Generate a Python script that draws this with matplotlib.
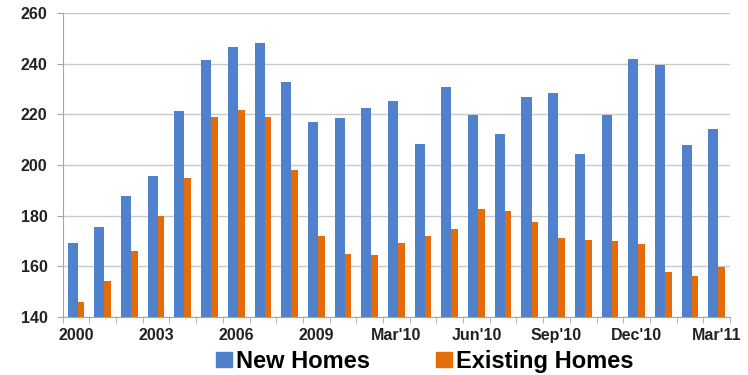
import matplotlib
matplotlib.use("Agg")
import matplotlib.pyplot as plt
from matplotlib.patches import Patch
import numpy as np

# values
new_homes = [169.2, 175.4, 187.8, 195.5, 221.3, 241.5, 246.8, 248.1, 232.8, 217.2,
             218.6, 222.5, 225.2, 208.5, 230.8, 219.8, 212.4, 227.0, 228.4, 204.5,
             219.8, 241.8, 239.5, 208.1, 214.4]
existing_homes = [145.8, 154.3, 165.8, 180.0, 195.0, 218.8, 221.7, 218.8, 197.9, 172.1,
                  164.6, 164.3, 169.3, 172.0, 174.5, 182.7, 181.8, 177.3, 171.1, 170.4,
                  170.1, 168.7, 157.7, 156.1, 159.8]
tick_labels = ["2000", "2003", "2006", "2009", "Mar'10", "Jun'10", "Sep'10", "Dec'10", "Mar'11"]
yticks = [140, 160, 180, 200, 220, 240, 260]

blue = "#4F81CD"
orange = "#E46C0A"
grey = "#A6A6A6"

plt.rcParams['font.family'] = ['Liberation Sans', 'DejaVu Sans']

fig = plt.figure(figsize=(7.48, 3.75), dpi=100)
ax = fig.add_axes([0.0838, 0.1555, 0.8922, 0.809])

x = np.arange(len(new_homes))
ax.bar(x - 0.125, np.array(new_homes) - 140, width=0.375, bottom=140, color=blue, zorder=3)
ax.bar(x + 0.1875, np.array(existing_homes) - 140, width=0.25, bottom=140, color=orange, zorder=3)

ax.set_xlim(-0.5, len(new_homes) - 0.5)
ax.set_ylim(140, 260)
ax.set_yticks(yticks)
ax.set_yticklabels([str(v) for v in yticks], fontsize=11.5, fontweight='bold', color='#222222')
ax.yaxis.grid(True, color='#C8C8C8', linewidth=1, zorder=0)

# labels every third group, tick marks between groups
ax.set_xticks(x[::3])
ax.set_xticklabels(tick_labels, fontsize=11.5, fontweight='bold', color='#222222')
ax.tick_params(axis='x', which='major', length=0, pad=8)
ax.set_xticks(np.arange(len(new_homes) + 1) - 0.5, minor=True)
ax.tick_params(axis='x', which='minor', length=4, color=grey)
ax.tick_params(axis='y', length=4, color=grey, pad=7)

for s in ['top', 'right']:
    ax.spines[s].set_visible(False)
ax.spines['left'].set_color(grey)
ax.spines['bottom'].set_color(grey)

handles = [Patch(color=blue, label="New Homes"), Patch(color=orange, label="Existing Homes")]
fig.legend(handles=handles, loc='center', bbox_to_anchor=(0.5675, 0.036), ncol=2,
           frameon=False, prop={'size': 17, 'weight': 'bold'}, handlelength=0.7,
           handleheight=0.58, handletextpad=0.15, columnspacing=2.8, borderpad=0)

fig.savefig("out.png", dpi=100)
